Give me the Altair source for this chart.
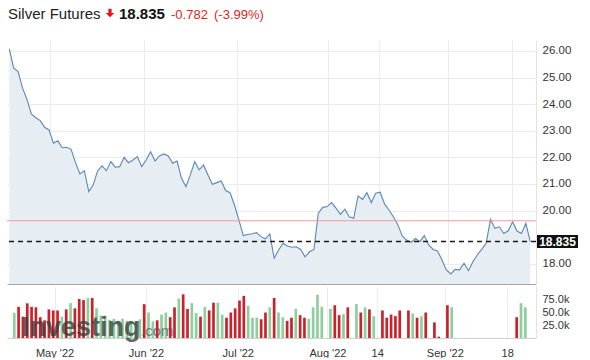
import altair as alt
import pandas as pd

# ---------------- data ----------------
title_text = "Silver Futures"
last_price = 18.835
prev_close = 19.617

prices = [
    26.08, 25.35, 25.22, 24.60, 24.18, 23.63, 23.49, 23.38, 23.13, 23.03,
    22.53, 22.62, 22.36, 22.38, 22.30, 21.80, 21.38, 21.50, 20.71, 20.96,
    21.49, 21.68, 21.50, 21.84, 21.63, 21.65, 22.00, 21.80, 21.90, 22.03,
    21.65, 21.90, 22.21, 21.86, 22.05, 22.13, 22.05, 21.78, 21.86, 21.21,
    20.90, 21.34, 21.84, 21.53, 21.71, 21.34, 20.99, 21.05, 21.11, 20.75,
    20.67, 20.21, 19.65, 19.06, 19.10, 19.13, 19.17, 19.02, 18.94, 19.12,
    18.21, 18.52, 18.77, 18.67, 18.62, 18.64, 18.54, 18.26, 18.45, 18.54,
    19.90, 20.12, 20.15, 20.30, 20.09, 19.86, 20.05, 19.77, 19.71, 20.55,
    20.42, 20.67, 20.30, 20.65, 20.69, 20.25, 20.02, 19.77, 19.47, 19.05,
    18.89, 18.81, 18.95, 18.83, 19.06, 18.71, 18.54, 18.48, 18.14, 17.77,
    17.62, 17.79, 17.77, 18.02, 17.74, 18.08, 18.33, 18.54, 18.77, 19.67,
    19.33, 19.39, 19.14, 19.24, 19.58, 19.23, 19.14, 19.52, 18.835,
]

# volume in thousands (None = no bar)
volumes = [
    48.7, 60, 41, 66.7, 60, 59, 40, 34, 55, 53,
    53, 41, 55, 67, 57, 75, 73, 77, 77, 57,
    43, 43, 35, 37, 33, 37, 33, 33, 32, 36,
    65, 49, 32, 34, 45, 49, 40, 59, 76, 84,
    56, 67, 48, 41, 60, 53, 68, 68, 45, 39,
    49, 57, 72, 81, 62, 39, 39, 36, 49, 59,
    77, 49, 40, 33, 39, 56, 44, 39, 37, 59,
    83, 60, None, 56, 63, 44, 46, 59, None, 65,
    49, 59, 55, 42, None, 53, 39, 45, 42, 53,
    None, 53, 47, 39, 42, 49, None, 30, 2.5, None,
    63, 59, None, None, None, None, None, None, None, None,
    None, None, None, None, None, None, 40, 67, 59,
]

directions = [
    "up", "down", "down", "down", "down", "down", "down", "down", "down", "down",
    "down", "up", "down", "up", "down", "down", "down", "up", "down", "up",
    "up", "up", "up", "up", "up", "up", "up", "up", "up", "up",
    "down", "up", "up", "down", "up", "up", "down", "down", "up", "down",
    "down", "up", "up", "down", "up", "down", "down", "up", "up", "down",
    "down", "down", "down", "down", "up", "up", "up", "down", "down", "up",
    "down", "up", "up", "down", "down", "up", "down", "down", "up", "up",
    "up", "up", "", "up", "down", "down", "up", "down", "", "up",
    "down", "up", "down", "up", "", "down", "down", "down", "down", "down",
    "", "down", "up", "down", "up", "down", "", "down", "down", "",
    "down", "up", "", "", "", "", "", "", "", "",
    "", "", "", "", "", "", "down", "up", "up",
]

tick_pos = [9.3, 30.4, 51.6, 72.3, 83.8, 99.4, 113.8]
tick_labels = ["May '22", "Jun '22", "Jul '22", "Aug '22", "14", "Sep '22", "18"]
price_ticks = [18, 20, 21, 22, 23, 24, 25, 26]
vol_ticks = [25, 50, 75]

# ---------------- layout / style ----------------
FONT = "Arial"
W = 529
HEADER_H = 38
PH = 244
VH = 52
XDOM = [-0.52, 119.3]
YDOM = [17.24, 26.41]
GRID = "#eaedf0"
LINE = "#5b87b4"
FILL = "#e6edf3"
RED = "#dc1f26"
UP = "#8fcf9f"
DOWN = "#c8232c"

n = len(prices)
df = pd.DataFrame({"i": list(range(n)), "price": prices, "base": [YDOM[0]] * n})
vdf = pd.DataFrame({"i": list(range(n)), "vol": volumes, "dir": directions}).dropna(subset=["vol"])

change = last_price - prev_close
pct = change / prev_close * 100

# ---------------- header ----------------
def htext(txt, x, size, color, weight="normal"):
    return alt.Chart(pd.DataFrame({"t": [txt]})).mark_text(
        align="left", baseline="alphabetic", font=FONT, fontSize=size,
        color=color, fontWeight=weight,
    ).encode(x=alt.value(x), y=alt.value(18.5), text="t:N")

arrow = alt.Chart(pd.DataFrame({"t": [1]})).mark_point(
    shape="M-0.38,-1L0.38,-1L0.38,0L1,0L0,1L-1,0L-0.38,0Z",
    filled=True, size=70, color="#e0161b", opacity=1,
).encode(x=alt.value(103), y=alt.value(13))

header = alt.layer(
    htext(title_text, 1, 15, "#222222"),
    arrow,
    htext(f"{last_price:.3f}", 112, 15, "#111111", "bold"),
    htext(f"{change:.3f}", 164, 13, RED),
    htext(f"({pct:.2f}%)", 207, 13, RED),
).properties(width=W, height=HEADER_H)

# ---------------- price panel ----------------
x_scale = alt.Scale(domain=XDOM, nice=False, zero=False)
y_scale = alt.Scale(domain=YDOM, nice=False, zero=False)

x_axis_price = alt.Axis(values=tick_pos, labels=False, ticks=False, grid=True,
                        gridColor=GRID, domainColor="#a8a8a8", title=None)
y_axis_price = alt.Axis(orient="right", values=price_ticks, format=".2f", grid=True,
                        gridColor=GRID, ticks=False, domainColor="#e3e3e3",
                        labelPadding=6, labelFontSize=11.5, labelColor="#333333",
                        labelFont=FONT, labelOverlap=False, labelBound=False,
                        title=None)

def px(field="i:Q"):
    return alt.X(field, scale=x_scale, axis=x_axis_price)

def py(field):
    return alt.Y(field, scale=y_scale, stack=False, axis=y_axis_price)

area = alt.Chart(df).mark_area(color=FILL, opacity=1, clip=True).encode(
    x=px(), y=py("price:Q"), y2="base:Q"
)
line = alt.Chart(df).mark_line(color=LINE, strokeWidth=1.1, clip=True).encode(
    x=px(), y=py("price:Q")
)

ref = pd.DataFrame({"v": [last_price], "prev": [prev_close],
                    "hi": [last_price + 0.245], "lo": [last_price - 0.245],
                    "t": [f"{last_price:.3f}"]})
prev_rule = alt.Chart(ref).mark_rule(color="#f19a9a", strokeWidth=1).encode(y=py("prev:Q"))
last_rule = alt.Chart(ref).mark_rule(color="#1a1a1a", strokeWidth=1.4, strokeDash=[5, 4]).encode(
    y=py("v:Q"))
box = alt.Chart(ref).mark_rect(color="#111111").encode(
    x=alt.value(530), x2=alt.value(571), y=py("hi:Q"), y2="lo:Q"
)
box_text = alt.Chart(ref).mark_text(
    color="white", font=FONT, fontSize=12, fontWeight="bold", align="center", baseline="middle"
).encode(x=alt.value(550.5), y=py("v:Q"), text="t:N")

price_chart = alt.layer(area, line, prev_rule, last_rule, box, box_text).properties(width=W, height=PH)

# ---------------- volume panel ----------------
label_expr = "{}[indexof({}, datum.value)]".format(
    "[" + ",".join('"' + s + '"' for s in tick_labels) + "]",
    "[" + ",".join(str(v) for v in tick_pos) + "]",
)
x_vol = alt.X(
    "i:Q", scale=x_scale,
    axis=alt.Axis(values=tick_pos, labelExpr=label_expr, ticks=False, grid=True,
                  gridColor=GRID, domainColor="#cfcfcf", labelPadding=9,
                  labelFontSize=11, labelColor="#333333", labelFont=FONT,
                  labelOverlap=False, labelFlush=False, title=None),
)
y_vol = alt.Y(
    "vol:Q", scale=alt.Scale(domain=[0, 100], nice=False), stack=False,
    axis=alt.Axis(orient="right", values=vol_ticks,
                  labelExpr="format(datum.value, '.1f') + 'k'", grid=False,
                  ticks=False, domainColor="#e3e3e3", labelPadding=6,
                  labelFontSize=11, labelColor="#333333", labelFont=FONT,
                  labelOverlap=False, title=None),
)
bars = alt.Chart(vdf).mark_bar(width=2.7).encode(
    x=x_vol, y=y_vol,
    color=alt.Color("dir:N", scale=alt.Scale(domain=["up", "down"], range=[UP, DOWN]), legend=None),
)

wm = pd.DataFrame({"a": ["Investing"], "b": [".com"]})
wm1 = alt.Chart(wm).mark_text(
    align="left", baseline="alphabetic", font=FONT, fontSize=27, fontWeight="bold",
    color="#3c3c3c", opacity=0.78,
).encode(x=alt.value(15), y=alt.value(50), text="a:N")
wm2 = alt.Chart(wm).mark_text(
    align="left", baseline="alphabetic", font=FONT, fontSize=15,
    color="#555555", opacity=0.75,
).encode(x=alt.value(134), y=alt.value(50), text="b:N")

vol_chart = alt.layer(bars, wm1, wm2).properties(width=W, height=VH)

chart = (
    alt.vconcat(header, price_chart, vol_chart, spacing=2)
    .configure(padding={"left": 6, "top": 0, "right": 0, "bottom": 0}, background="white")
    .configure_view(strokeWidth=0)
    .configure_axis(labelOverlap=False)
)

chart.save("out.html", embed_options={"renderer": "svg", "actions": False})
